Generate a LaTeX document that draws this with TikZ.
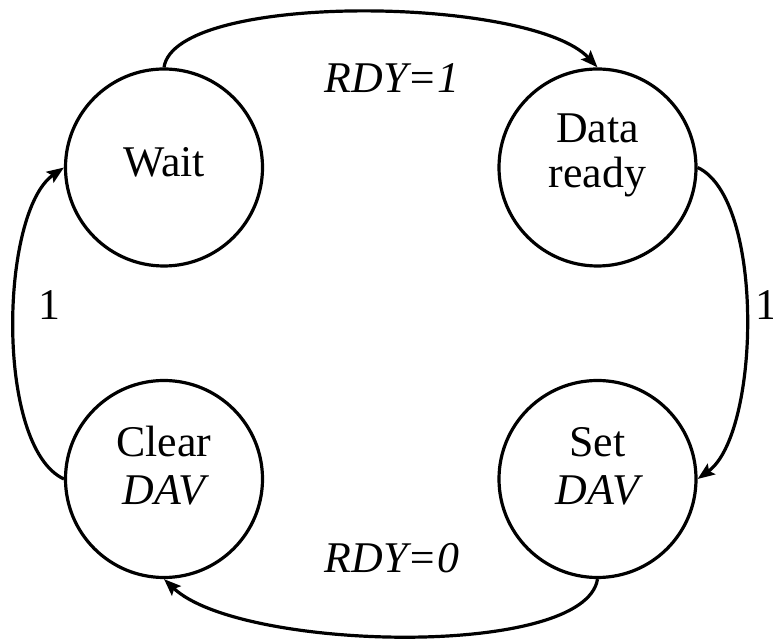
\documentclass[tikz,border=0pt]{standalone}
\usepackage{fontspec}
\setmainfont{Liberation Serif}
\usetikzlibrary{arrows.meta,calc}

\begin{document}
\begin{tikzpicture}[x=1bp,y=1bp,
  state/.style={circle,draw,line width=3.2bp,minimum size=197bp,inner sep=0pt},
  txt/.style={font=\fontsize{44}{46}\selectfont,inner sep=0pt,anchor=base},
  edge/.style={line width=3.2bp,-{Stealth[length=17bp,width=13bp,inset=3bp]}}]
  \useasboundingbox[fill=white] (0,0) rectangle (773,639);

  % the four states
  \node[state] (wait)  at (164,471.5) {};
  \node[state] (data)  at (597.5,471.5) {};
  \node[state] (clear) at (164,160) {};
  \node[state] (set)   at (597.5,160) {};

  % state names
  \node[txt] (waitname) at ($(wait.center)+(0,-9.5)$) {Wait};
  \node[txt] (dataname) at ($(data.center)+(0,24.5)$) {Data};
  \node[txt] (readyname) at ($(data.center)+(0,-20.5)$) {ready};
  \node[txt] (clearname) at ($(clear.center)+(0,22)$) {Clear};
  \node[txt] (clearsig) at ($(clear.center)+(0,-26)$) {\itshape DAV};
  \node[txt] (setname) at ($(set.center)+(0,22)$) {Set};
  \node[txt] (setsig) at ($(set.center)+(0,-26)$) {\itshape DAV};

  % transitions
  \draw[edge] (wait.north) .. controls ($(wait.north)+(11,76)$) and ($(data.north)+(-67,71.5)$) .. (data.north);
  \draw[edge] (data.east) .. controls ($(data.east)+(67.5,-31.5)$) and ($(set.east)+(62.5,45)$) .. (set.east);
  \draw[edge] (set.south) .. controls ($(set.south)+(-12.5,-80)$) and ($(clear.south)+(76,-72)$) .. (clear.south);
  \draw[edge] (clear.west) .. controls ($(clear.west)+(-69,32)$) and ($(wait.west)+(-64,-44.5)$) .. (wait.west);

  % transition conditions
  \node[txt] (cond1) at (392,546) {\itshape RDY=1};
  \node[txt] (cond0) at (392,66) {\itshape RDY=0};
  \node[txt] (condl) at (49.5,319) {1};
  \node[txt] (condr) at (766,319) {1};
\end{tikzpicture}
\end{document}
